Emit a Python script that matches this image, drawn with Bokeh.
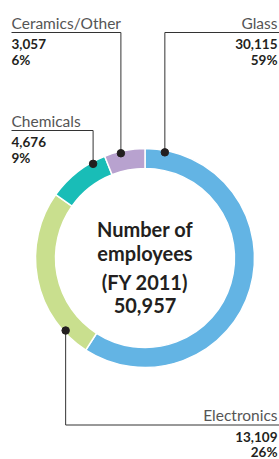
import math
from bokeh.plotting import figure
from bokeh.models import Range1d
from bokeh.core.properties import value
from bokeh.embed import file_html
from bokeh.resources import INLINE

# ---- data ----
categories = ["Glass", "Electronics", "Chemicals", "Ceramics/Other"]
employees = [30115, 13109, 4676, 3057]
value_labels = ["30,115", "13,109", "4,676", "3,057"]
share_labels = ["59%", "26%", "9%", "6%"]
center_lines = ["Number of", "employees", "(FY 2011)", "50,957"]

# ---- style / layout ----
colors = ["#63b4e4", "#c9df8e", "#19bdb7", "#b8a2cf"]
anchor_frac = [0.05, 0.16, 0.78, 0.40]      # where the dot sits inside each segment
label_line_y = [32, 424.5, 130, 32]          # screen y of each label's rule
label_side = ["right", "right", "left", "left"]

W, H = 279, 459
X0, Y0 = 0, 0


def Y(ys):
    return (Y0 + H) - ys


CX, CY = 144.5, Y(257.5)
R_OUT, R_IN, R_DOT = 109.5, 89.5, 107.5
LEFT_X, RIGHT_X = 11, 279
FONT = value("Lato")

p = figure(width=W, height=H, x_range=Range1d(X0, X0 + W), y_range=Range1d(0, H),
           output_backend="svg", toolbar_location=None, min_border=0,
           x_axis_location=None, y_axis_location=None)
p.grid.visible = False
p.outline_line_color = None
p.background_fill_color = "white"

total = sum(employees)
cum = 0.0
starts, ends = [], []
for v in employees:
    f0 = cum / total
    cum += v
    f1 = cum / total
    starts.append(math.pi / 2 - 2 * math.pi * f0)
    ends.append(math.pi / 2 - 2 * math.pi * f1)

p.annular_wedge(x=[CX] * 4, y=[CY] * 4, inner_radius=R_IN, outer_radius=R_OUT,
                start_angle=starts, end_angle=ends, direction="clock",
                fill_color=colors, line_color="white", line_width=1.5)

dark = "#231f20"
for i, cat in enumerate(categories):
    ang = starts[i] + (ends[i] - starts[i]) * anchor_frac[i]
    dx = CX + R_DOT * math.cos(ang)
    dy = CY + R_DOT * math.sin(ang)
    ly = Y(label_line_y[i])
    # vertical leader
    p.segment(x0=[dx], y0=[dy], x1=[dx], y1=[ly], line_color="#333333", line_width=1)
    if label_side[i] == "right":
        p.segment(x0=[dx], y0=[ly], x1=[RIGHT_X], y1=[ly], line_color="#333333", line_width=1)
        tx, align = RIGHT_X - 2, "right"
    else:
        p.segment(x0=[LEFT_X], y0=[ly], x1=[dx], y1=[ly], line_color="#333333", line_width=1)
        tx, align = LEFT_X, "left"
    p.scatter(x=[dx], y=[dy], size=7.5, fill_color=dark, line_color=dark)
    p.text(x=[tx], y=[ly + 10], text=[cat], text_font=FONT, text_font_size="15.5px",
           text_color="#555555", text_align=align, text_baseline="middle")
    p.text(x=[tx], y=[ly - 11.5], text=[value_labels[i]], text_font=FONT, text_font_size="13.5px",
           text_font_style="bold", text_color=dark, text_align=align, text_baseline="middle")
    p.text(x=[tx], y=[ly - 27], text=[share_labels[i]], text_font=FONT, text_font_size="13.5px",
           text_font_style="bold", text_color=dark, text_align=align, text_baseline="middle")

center_mids = [228.5, 252, 281, 305]
p.text(x=[CX] * 4, y=[Y(b) for b in center_mids], text=center_lines, text_font=FONT,
       text_font_size="20px", text_font_style="bold", text_color=dark,
       text_align="center", text_baseline="middle")

open("out.html", "w").write(file_html(p, INLINE))
